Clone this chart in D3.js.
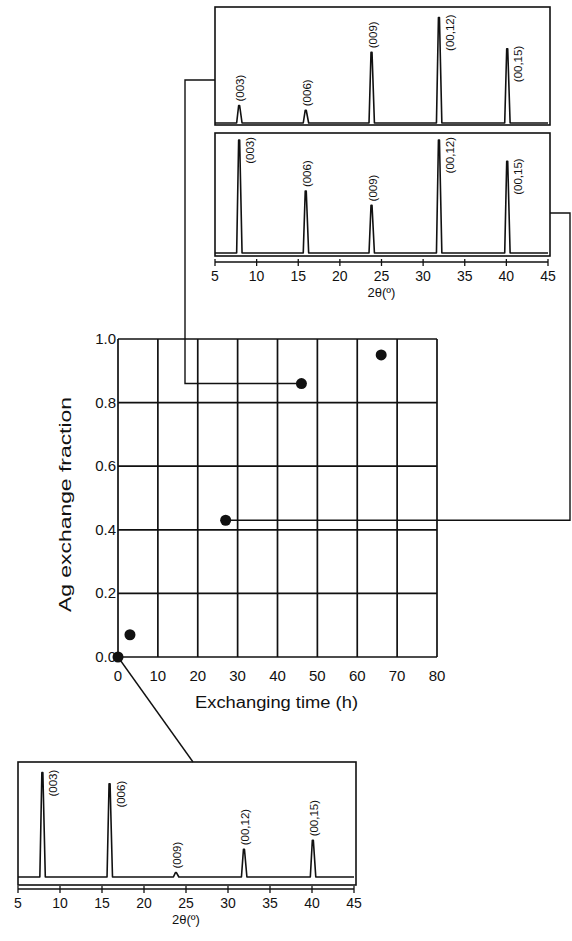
<!DOCTYPE html>
<html>
<head>
<meta charset="utf-8">
<script src="https://cdn.jsdelivr.net/npm/d3@7"></script>
<style>
  body { margin: 0; background: #fff; }
  text { font-family: "Liberation Sans", Arial, sans-serif; fill: #111; }
</style>
</head>
<body>
<svg></svg>
<script>
// main plot data
var times = [0, 3, 27, 46, 66];
var fractions = [0, 0.07, 0.43, 0.86, 0.95];
var xTicks = [0, 10, 20, 30, 40, 50, 60, 70, 80];
var yTicks = [0, 0.2, 0.4, 0.6, 0.8, 1.0];

// XRD peaks
var peakNames = ['(003)', '(006)', '(009)', '(00,12)', '(00,15)'];
var peakPos = [7.9, 15.9, 23.8, 31.9, 40.1];
var peaksTopA = [0.15, 0.11, 0.61, 0.91, 0.64];   // top sample, upper trace
var peaksTopB = [0.95, 0.52, 0.40, 0.95, 0.77];   // top sample, lower trace
var peaksBottom = [0.94, 0.84, 0.04, 0.25, 0.33]; // 0 h sample
var thetaTicks = [5, 10, 15, 20, 25, 30, 35, 40, 45];

var W = 572, H = 941;
var svg = d3.select('svg')
    .attr('width', W)
    .attr('height', H);

var ink = '#111';

// ---------- main chart ----------
var x = d3.scaleLinear().domain([0, 80]).range([118, 437]);
var y = d3.scaleLinear().domain([0, 1]).range([657, 339]);

var grid = svg.append('g').attr('stroke', ink).attr('stroke-width', 1.7);
grid.selectAll('line.v').data(xTicks).enter().append('line')
    .attr('x1', d => x(d)).attr('x2', d => x(d))
    .attr('y1', y(0)).attr('y2', y(1));
grid.selectAll('line.h').data(yTicks).enter().append('line')
    .attr('x1', x(0)).attr('x2', x(80))
    .attr('y1', d => y(d)).attr('y2', d => y(d));

svg.append('g').selectAll('text').data(xTicks).enter().append('text')
    .attr('x', d => x(d)).attr('y', y(0) + 24)
    .attr('text-anchor', 'middle')
    .attr('font-size', 15)
    .text(d => d);

svg.append('g').selectAll('text').data(yTicks).enter().append('text')
    .attr('x', x(0) - 2).attr('y', d => y(d) + 5)
    .attr('text-anchor', 'end')
    .attr('font-size', 15)
    .text(d => d3.format('.1f')(d));

svg.append('text')
    .attr('x', 195).attr('y', 708)
    .attr('font-size', 16)
    .attr('textLength', 163)
    .attr('lengthAdjust', 'spacingAndGlyphs')
    .text('Exchanging time (h)');

svg.append('text')
    .attr('transform', 'translate(71,612) rotate(-90)')
    .attr('font-size', 16)
    .attr('textLength', 215)
    .attr('lengthAdjust', 'spacingAndGlyphs')
    .text('Ag exchange fraction');

// ---------- connectors ----------
var conn = svg.append('g').attr('fill', 'none').attr('stroke', ink).attr('stroke-width', 1.4);
conn.append('path')
    .attr('d', d3.line()([[x(times[3]), y(fractions[3])], [185, y(fractions[3])], [185, 80], [215, 80]]));
conn.append('path')
    .attr('d', d3.line()([[x(times[2]), y(fractions[2])], [570, y(fractions[2])], [570, 213], [550, 213]]));
conn.append('path')
    .attr('d', d3.line()([[x(times[0]), y(fractions[0])], [193, 762]]));

svg.append('g').selectAll('circle').data(times).enter().append('circle')
    .attr('cx', d => x(d))
    .attr('cy', (d, i) => y(fractions[i]))
    .attr('r', 5.5)
    .attr('fill', ink);

// ---------- XRD panels ----------
function tracePoints(peaks) {
  var pts = [[5, 0]];
  peakPos.forEach(function(p, i) {
    pts.push([p - 0.3, 0], [p - 0.06, peaks[i]], [p + 0.06, peaks[i]], [p + 0.35, 0]);
  });
  pts.push([45, 0]);
  return pts;
}

function drawTrace(g, xs, ys, peaks) {
  g.append('path')
      .attr('d', d3.line().x(d => xs(d[0])).y(d => ys(d[1]))(tracePoints(peaks)))
      .attr('fill', 'none')
      .attr('stroke', ink)
      .attr('stroke-width', 1.6)
      .attr('stroke-linejoin', 'round');
}

// side = label to the right of the peak reading down from its top,
// otherwise the label sits above the peak
function drawLabels(g, xs, ys, peaks, side) {
  g.selectAll('text.pk').data(peakNames).enter().append('text')
      .attr('transform', function(d, i) {
        var px = xs(peakPos[i]) + (side[i] ? 15 : 5);
        var py = side[i] ? ys(peaks[i]) - 3 : ys(peaks[i]) - 4;
        return 'translate(' + px + ',' + py + ') rotate(-90)';
      })
      .attr('text-anchor', (d, i) => side[i] ? 'end' : 'start')
      .attr('font-size', 11.5)
      .text(d => d);
}

function drawAxis(g, xs, yAxis) {
  g.append('line')
      .attr('x1', xs(5)).attr('x2', xs(45))
      .attr('y1', yAxis).attr('y2', yAxis)
      .attr('stroke', ink).attr('stroke-width', 1.6);
  g.selectAll('line.tk').data(thetaTicks).enter().append('line')
      .attr('x1', d => xs(d)).attr('x2', d => xs(d))
      .attr('y1', yAxis - 3).attr('y2', yAxis + 4)
      .attr('stroke', ink).attr('stroke-width', 1.3);
  g.selectAll('text.tl').data(thetaTicks).enter().append('text')
      .attr('x', d => xs(d)).attr('y', yAxis + 19)
      .attr('text-anchor', 'middle')
      .attr('font-size', 14)
      .text(d => d);
  g.append('text')
      .attr('x', (xs(5) + xs(45)) / 2).attr('y', yAxis + 35)
      .attr('text-anchor', 'middle')
      .attr('font-size', 13)
      .text('2θ(º)');
}

function frame(g, x0, x1, y0, y1) {
  g.append('rect')
      .attr('x', x0).attr('y', y0)
      .attr('width', x1 - x0).attr('height', y1 - y0)
      .attr('fill', 'none').attr('stroke', ink).attr('stroke-width', 1.6);
}

// top block
var xt = d3.scaleLinear().domain([5, 45]).range([215, 548]);
var topG = svg.append('g');
frame(topG, 215, 550, 7, 125);
frame(topG, 215, 550, 133, 256);
var ytA = d3.scaleLinear().domain([0, 1]).range([123, 7]);
var ytB = d3.scaleLinear().domain([0, 1]).range([253, 134]);
drawTrace(topG, xt, ytA, peaksTopA);
drawTrace(topG, xt, ytB, peaksTopB);
drawLabels(topG, xt, ytA, peaksTopA, [false, false, false, true, true]);
drawLabels(topG, xt, ytB, peaksTopB, [true, false, false, true, true]);
drawAxis(topG, xt, 262);

// bottom block
var xb = d3.scaleLinear().domain([5, 45]).range([18, 354]);
var botG = svg.append('g');
frame(botG, 18, 356, 762, 885);
var yb = d3.scaleLinear().domain([0, 1]).range([877, 766]);
drawTrace(botG, xb, yb, peaksBottom);
drawLabels(botG, xb, yb, peaksBottom, [true, true, false, false, false]);
drawAxis(botG, xb, 889);
</script>
</body>
</html>
